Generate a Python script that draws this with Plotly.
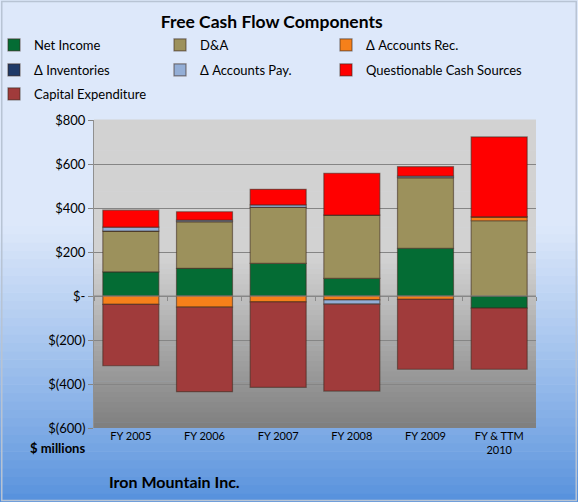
import plotly.graph_objects as go

# values in $ millions
years = ["FY 2005", "FY 2006", "FY 2007", "FY 2008", "FY 2009", "FY & TTM<br>2010"]
net_income = [110, 126, 148, 80, 217, -55]
dep_amort = [185, 212, 255, 288, 321, 342]
accounts_rec = [-38, -51, -27, -18, -15, 18]
inventories = [0, 0, 0, 0, 0, 0]
accounts_pay = [18, 7, 11, -19, 7, 0]
questionable = [77, 38, 71, 190, 43, 363]
capex = [-279, -384, -388, -395, -318, -278]

tick_vals = [800, 600, 400, 200, 0, -200, -400, -600]
tick_text = ["$800", "$600", "$400", "$200", "$-", "$(200)", "$(400)", "$(600)"]

# name, values, colour, which legend box
series = [
    ("Net Income", net_income, "#046C34", "legend"),
    ("D&A", dep_amort, "#9C915C", "legend"),
    ("Δ Accounts Rec.", accounts_rec, "#F6801A", "legend"),
    ("Δ Inventories", inventories, "#1F3A68", "legend2"),
    ("Δ Accounts Pay.", accounts_pay, "#93AED6", "legend2"),
    ("Questionable Cash Sources", questionable, "#FF0000", "legend4"),
    ("Capital Expenditure", capex, "#A03B3B", "legend3"),
]

W, H = 578, 502
L, R, T, B = 94, 42, 120, 74
pw, ph = W - L - R, H - T - B

fig = go.Figure()
for name, vals, col, leg in series:
    fig.add_trace(go.Bar(x=years, y=vals, name=name, marker_color=col, legend=leg,
                         marker_line=dict(color="rgba(60,40,30,0.55)", width=1.2)))

# tick marks on the zero line between categories
fig.add_trace(go.Scatter(x=[0], y=[None], xaxis="x2", showlegend=False, hoverinfo="skip"))


def mix(c1, c2, t):
    return "rgb(%d,%d,%d)" % tuple(round(a + (b - a) * t) for a, b in zip(c1, c2))


shapes = []
# page background gradient (light at top, blue at bottom)
n = 60
x0p, x1p = -L / pw, 1 + R / pw
y0p, y1p = -B / ph, 1 + T / ph
for i in range(n):
    ya = y0p + (y1p - y0p) * i / n
    yb = y0p + (y1p - y0p) * (i + 1) / n
    f = i / (n - 1)  # 0 bottom, 1 top
    t = min(1.0, f / 0.55)
    shapes.append(dict(type="rect", xref="paper", yref="paper", x0=x0p, x1=x1p, y0=ya, y1=yb + 0.002,
                       fillcolor=mix((88, 146, 221), (221, 232, 250), t ** 0.9), line_width=0, layer="below"))
# plot area gradient (gray)
for i in range(n):
    ya, yb = i / n, (i + 1) / n
    f = i / (n - 1)
    t = min(1.0, f / 0.55)
    shapes.append(dict(type="rect", xref="paper", yref="paper", x0=0, x1=1, y0=ya, y1=yb + 0.002,
                       fillcolor=mix((128, 128, 128), (210, 210, 210), t), line_width=0, layer="below"))
# outer border
shapes.append(dict(type="rect", xref="paper", yref="paper", x0=x0p + 0.004, x1=x1p - 0.004,
                   y0=y0p + 0.005, y1=y1p - 0.005, line=dict(color="#B8C4D4", width=1.5)))


def legend_box(x_px, y_px, ew=None):
    d = dict(orientation="h", x=(x_px - L) / pw, y=1 + (T - y_px) / ph, xanchor="left", yanchor="middle",
             bgcolor="rgba(0,0,0,0)", font=dict(size=13), itemwidth=30, traceorder="normal")
    if ew:
        d.update(entrywidth=ew, entrywidthmode="pixels")
    return d


fig.update_layout(
    width=W, height=H,
    margin=dict(l=L, r=R, t=T, b=B, autoexpand=False),
    barmode="relative",
    bargap=0.24,
    paper_bgcolor="#DDE8FA",
    plot_bgcolor="rgba(0,0,0,0)",
    font=dict(family="Lato, Open Sans, sans-serif", color="#000000", size=12),
    title=dict(text="<b>Free Cash Flow Components</b>", x=0.47, xanchor="center",
               y=1 - 22 / H, yanchor="middle", font=dict(size=17.5)),
    legend=legend_box(-6, 45, 121),
    legend2=legend_box(-6, 70, 121),
    legend3=legend_box(-6, 94, 121),
    legend4=legend_box(326, 70),
    shapes=shapes,
    annotations=[
        dict(text="<b>$ millions</b>", xref="paper", yref="paper", x=-0.015, y=-(448 - 428) / ph,
             xanchor="right", yanchor="middle", showarrow=False, font=dict(size=13)),
        dict(text="<b>Iron Mountain Inc.</b>", xref="paper", yref="paper", x=(107 - L) / pw,
             y=-(481 - 428) / ph, xanchor="left", yanchor="middle", showarrow=False, font=dict(size=16)),
    ],
    xaxis2=dict(overlaying="x", anchor="free", position=600 / 1400, range=[-0.5, 5.5],
                tickvals=[i - 0.5 for i in range(7)], ticks="outside", ticklen=4, tickcolor="#8A8A8A",
                showticklabels=False, showgrid=False, zeroline=False, showline=False),
)
fig.update_yaxes(range=[-600, 800], tickvals=tick_vals, ticktext=tick_text,
                 showgrid=True, gridcolor="#858585", gridwidth=1, zeroline=False,
                 ticks="outside", ticklen=5, tickcolor="#858585",
                 tickfont=dict(size=13), showline=True, linecolor="#909090")
fig.layout.xaxis.update(tickfont=dict(size=11), showline=False, ticks="", tickangle=0)
fig.add_hline(y=0, line_color="#8A8A8A", line_width=1.2)

fig.write_html("out.html", config={"displayModeBar": False},
               post_script="document.body.style.margin='0';")
